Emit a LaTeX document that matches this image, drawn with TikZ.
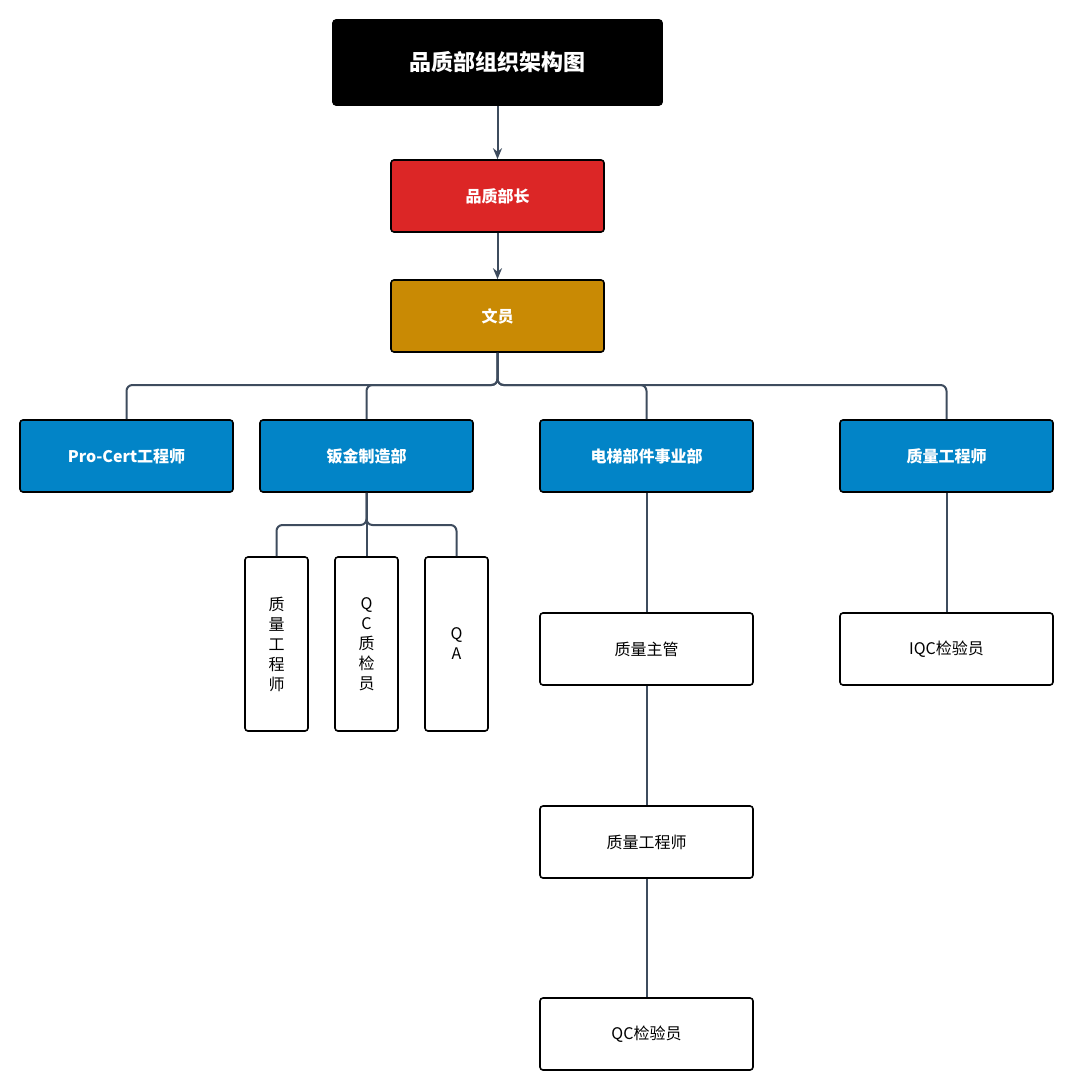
\documentclass[tikz,border=0pt]{standalone}
\usepackage{fontspec}
\setmainfont{Noto Sans CJK SC}
\usetikzlibrary{arrows.meta, positioning}
\definecolor{linec}{HTML}{3E4C5E}
\definecolor{redc}{HTML}{DC2626}
\definecolor{goldc}{HTML}{C98A04}
\definecolor{bluec}{HTML}{0284C7}
\begin{document}
\begin{tikzpicture}[
        x=1pt, y=-1pt,
        box/.style = {rectangle, draw=black, line width=1.6pt, rounded corners=3pt,
                      minimum width=213pt, minimum height=72pt, inner sep=0pt,
                      font=\fontsize{16}{19}\selectfont},
        head/.style = {box, fill=#1, text=white, font=\fontsize{16}{19}\selectfont\bfseries},
        tall/.style = {box, minimum width=63pt, minimum height=174pt, align=center,
                       font=\fontsize{16}{20}\selectfont},
        pil/.style = {linec, line width=2pt, -{Stealth[length=11pt,width=9pt]}},
        lin/.style = {linec, line width=2pt, rounded corners=6pt}
        ]
        \useasboundingbox (0,0) rectangle (1073,1091);

        \node[head=black, minimum width=329pt, minimum height=85pt,
              font=\fontsize{22}{25}\selectfont\bfseries] (title) at (497.5,62.5) {品质部组织架构图};
        \node[head=redc] (chief) at (497.5,196) {品质部长};
        \node[head=goldc] (clerk) at (497.5,316) {文员};

        \node[head=bluec] (cert) at (126.5,456) {Pro-Cert工程师};
        \node[head=bluec] (sheet) at (366.5,456) {钣金制造部};
        \node[head=bluec] (lift) at (646.5,456) {电梯部件事业部};
        \node[head=bluec] (qeng) at (946.5,456) {质量工程师};

        \node[tall] (sq1) at (276.5,644) {质\\量\\工\\程\\师};
        \node[tall] (sq2) at (366.5,644) {Q\\C\\质\\检\\员};
        \node[tall] (sq3) at (456.5,644) {Q\\A};

        \node[box] (lead) at (646.5,649) {质量主管};
        \node[box] (leng) at (646.5,842) {质量工程师};
        \node[box] (lqc) at (646.5,1034) {QC检验员};
        \node[box] (iqc) at (946.5,649) {IQC检验员};

        \draw[pil] (title) -- (chief);
        \draw[pil] (chief) -- (clerk);

        \foreach \n in {cert, sheet, lift, qeng}
          \draw[lin] (clerk.south) |- (\n.north |- 0,385) -- (\n.north);
        \foreach \n in {sq1, sq2, sq3}
          \draw[lin] (sheet.south) |- (\n.north |- 0,525) -- (\n.north);
        \draw[lin] (lift) -- (lead);
        \draw[lin] (lead) -- (leng);
        \draw[lin] (leng) -- (lqc);
        \draw[lin] (qeng) -- (iqc);
\end{tikzpicture}
\end{document}
